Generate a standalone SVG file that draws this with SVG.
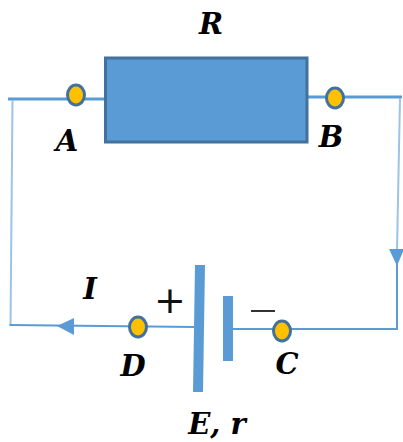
<svg xmlns="http://www.w3.org/2000/svg" width="403" height="442" viewBox="0 0 403 442">
<style>
.w{fill:none;stroke:#5b9bd5;stroke-linecap:butt}
.t{stroke:#9dc3e6}
.p{fill:#ffc000;stroke:#41719c;stroke-width:3}
.l{font-family:"DejaVu Serif","Liberation Serif",serif;font-weight:bold;font-style:italic;font-size:29px;fill:#000;text-anchor:middle}
.s{font-family:"DejaVu Sans",sans-serif;font-size:38px;fill:#111;text-anchor:middle}
.b{fill:#5b9bd5}
</style>
<rect width="403" height="442" fill="#fff"/>
<g id="connectors">
<path class="w" stroke-width="3" d="M8 99H105"/>
<path class="w" stroke-width="3" d="M307 97H402"/>
<path class="w t" stroke-width="2" d="M12.500 100L10.500 326"/>
<path class="w t" stroke-width="2" d="M400 98L397 250"/>
<path class="w" stroke-width="2" d="M397 250V329H282"/>
<path class="w" stroke-width="2" d="M9.500 325L195 327"/>
<path class="w" stroke-width="2" d="M228 329H282"/>
<polygon class="b" points="397,266 389,249 404,249"/>
<polygon class="b" points="57,326 74,318 74,335"/>
</g>
<g id="resistor"><rect x="105.500" y="58" width="201.500" height="84" fill="#5b9bd5" stroke="#41719c" stroke-width="3"/><text class="l" x="211" y="34">R</text></g>
<g id="battery">
<polygon class="b" points="195,265 205,265 203,392 193,392"/>
<rect class="b" x="223" y="296" width="10" height="65"/>
<text class="s" x="170" y="313">+</text>
<rect x="251" y="310" width="24" height="2" fill="#333"/>
<text class="l" x="217" y="434">E, r</text>
</g>
<g id="node-a"><ellipse class="p" cx="76" cy="95" rx="8.500" ry="10"/><text class="l" x="67" y="151">A</text></g>
<g id="node-b"><ellipse class="p" cx="335" cy="98" rx="8.500" ry="10"/><text class="l" x="331" y="147">B</text></g>
<g id="node-c"><ellipse class="p" cx="282" cy="331" rx="8.500" ry="10"/><text class="l" x="287" y="374">C</text></g>
<g id="node-d"><ellipse class="p" cx="138" cy="327" rx="8.500" ry="10"/><text class="l" x="133" y="376">D</text></g>
<g id="current"><text class="l" x="90" y="299">I</text></g>
</svg>
